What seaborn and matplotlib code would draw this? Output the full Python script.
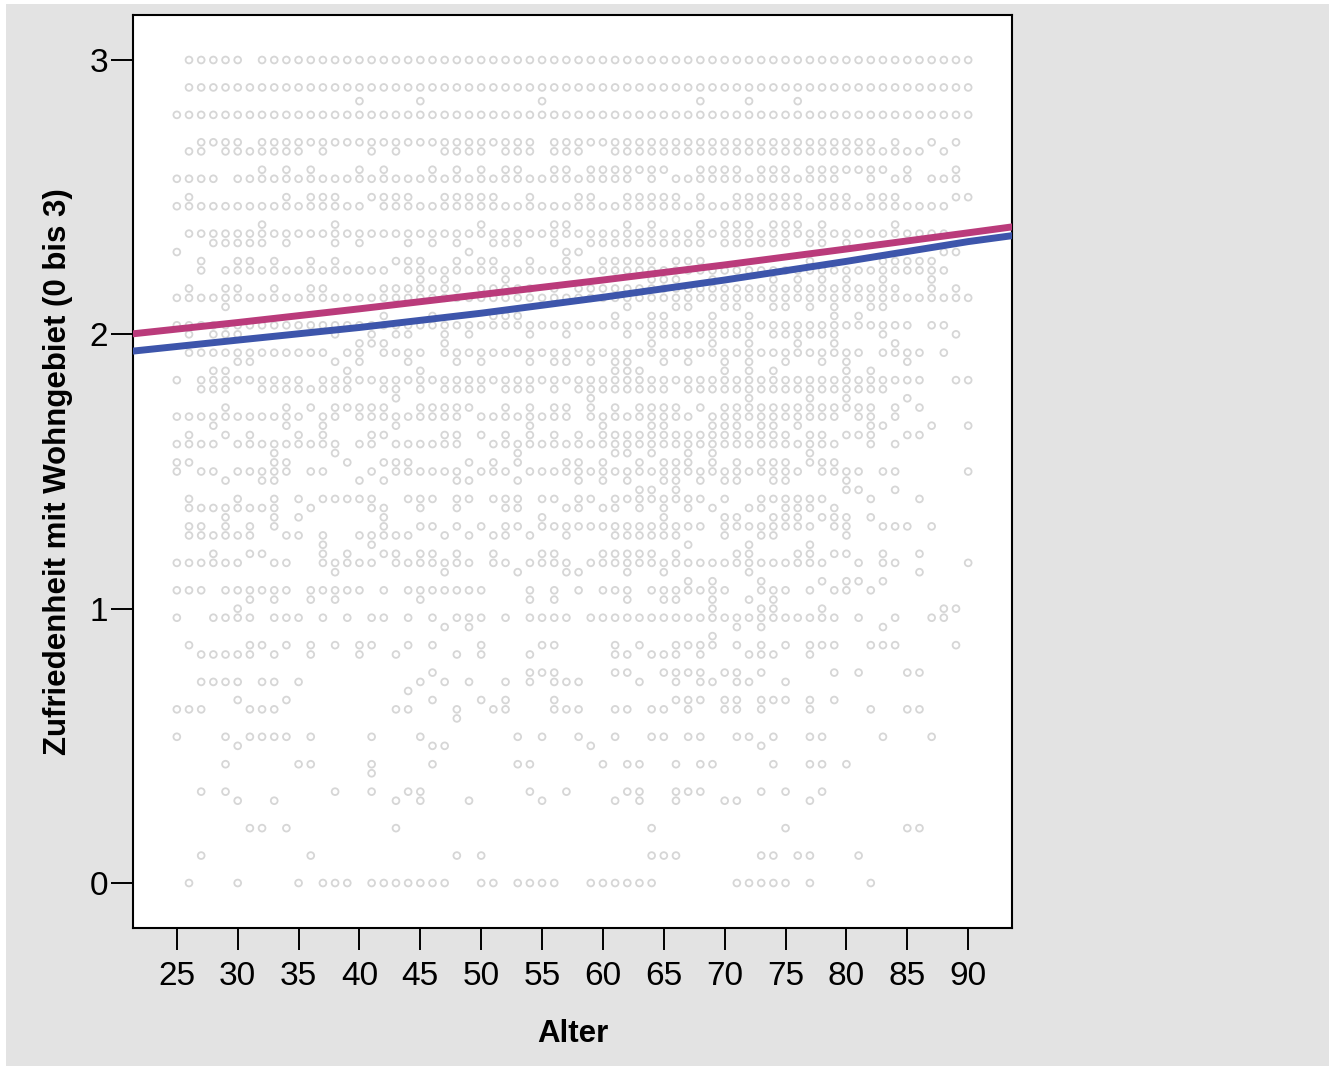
import matplotlib
matplotlib.use("Agg")

import numpy as np
import pandas as pd
import matplotlib.pyplot as plt
import seaborn as sns
from matplotlib.patches import Rectangle

# ---------------------------------------------------
# Data
# ---------------------------------------------------

# y levels of the scatter rows (satisfaction score)
levels = [
    3.0, 2.9, 2.85, 2.8, 2.7, 2.667, 2.6, 2.567, 2.5, 2.467,
    2.4, 2.367, 2.333, 2.3, 2.267, 2.233, 2.2, 2.167, 2.133, 2.1,
    2.067, 2.033, 2.0, 1.967, 1.933, 1.9, 1.867, 1.833, 1.8, 1.767,
    1.733, 1.7, 1.667, 1.633, 1.6, 1.567, 1.533, 1.5, 1.467, 1.433,
    1.4, 1.367, 1.333, 1.3, 1.267, 1.233, 1.2, 1.167, 1.133, 1.1,
    1.067, 1.033, 1.0, 0.967, 0.933, 0.9, 0.867, 0.833, 0.767, 0.733,
    0.7, 0.667, 0.633, 0.6, 0.533, 0.5, 0.433, 0.4, 0.333, 0.3,
    0.2, 0.1, 0.0,
]

# ages with at least one respondent on each level ("a-b" = every age from a to b)
ages_per_level = [
    "26-30 32-90",
    "26-90",
    "40 45 55 68 72 76",
    "25-90",
    "27-30 32-54 56-82 84 87 89",
    "26 27 29-35 37 41 43 47-50 52-54 56-58 61-86 88",
    "32 34 36 40 42 46 48 50 52 53 56 57 59-65 68-71 73-75 77-83 85 89",
    "25-28 30-62 64 66-79 82 84 85 87-89",
    "26 34 36-38 41-44 47-51 54 58 59 62-66 68 71-76 78-80 82-84 89 90",
    "25-40 42-88",
    "32 38 50 56 57 62 64 68 70-72 74-76 78 84",
    "26-88",
    "28-32 34 38 40 44 46 48 51-53 56 59-68 70-75 77 78 80",
    "25 49 57 58 88 89",
    "27 30 31 33 36 38 43-45 48 50 51 54 57 60-64 66-68 77 83-87",
    "27 29-42 44-88",
    "45 47 52 64-66 69 74 76 78 80 83 87",
    "26 29 30 33 36 37 42-48 50-54 56 58-84 87 89",
    "25-90",
    "29 62 66 67 70 71 74 75 77 79 82 83",
    "42 46 51-53 61 64 65 69 72 79 81",
    "25-85 87 88",
    "26 28-30 38 41 43 44 47 49 54 57 62 64-72 74-79 83 89",
    "40-42 47 64 69 72 76 79 84",
    "26-37 39 40 42-45 47-81 83-86 88",
    "30 31 38 40 44 48 50 54 56 57 59 61 62 65 67 70 72 75 78 80 85",
    "28 29 39 45 61-63 70 72 74 80 82",
    "25 27-35 37-86 89 90",
    "27-29 32-39 42 43 45 47-50 52-54 56 58-65 67-83",
    "43 59 72 77 80 85",
    "29 34 36 38-42 45-49 52 54 56 57 59 61 63-66 68 70-82 84 86",
    "25-35 37 38 40-48 50-57 59-67 69-79 81 82 84",
    "28 34 37 43 54 60 64 65 69-71 73 74 76 82 83 87 90",
    "26 29 31 35 37 41 42 47 48 50 52 54 56 58 60-75 77 78 80-82 85 86",
    "25-28 30-38 40 41 43-48 51-79 82 84",
    "33 38 53 61 62 64 67 69 77",
    "25 26 33 34 39 42-44 49 51 53 57 58 60 63 65-67 69 71 73-75 77-79",
    "25 27 28 30-34 36 37 41 43-48 50-52 54-76 78-81 83 84 90",
    "29 32 33 40 42 48 49 53 58 60 62 65 66 68 70 71 74 75 80",
    "63 64 66 80 81 84",
    "26 30 33 35 37-41 44-46 48 49 51-53 55 56 58 59 61-68 70 73-78 82 86",
    "26-33 36 41 42 45 48 52 53 57 58 60 61 63 65 67 69 72 73 75-77 79",
    "29 33 35 42 55 65 70 71 74-76 78-80 82",
    "26 27 29 31 33 42 45 46 48 50 52 53 55-68 70-77 79 80 83-85 87",
    "26-31 34 35 37 40-44 47 49 51 52 54 57 61-66 70 73 74 80",
    "37 41 67 72 77",
    "28 31 32 37 39 42 43 45 46 48 51 55 56 60-64 66 71 72 76 77 79 80 83 86",
    "25-30 33 34 37-41 43-49 51 52 54-57 59-78 81 83 84 90",
    "38 47 53 57 58 62 65 72 86",
    "67 69 73 78 80 81 83",
    "25-27 29-34 36-40 42 44-50 54 56 58 60-62 64-70 73-75 77 79 80 82",
    "31 33 36 38 45 54 56 62 65 66 69 72 74",
    "30 69 73 74 78 88 89",
    "25 28-31 33-35 37 39 41 42 44 46 48-50 52 54-57 59-79 81 84 87 88",
    "47 49 71 73 83",
    "69",
    "26 31 32 34 36 38 40 41 44 46 50 55 56 61 63 66-69 71 73 75 77-79 82-84 89",
    "27-31 33 36 40 43 48 50 54 61 62 64-66 68 72-74 77",
    "46 54-56 61 62 65-68 70 71 73 79 81 85 86",
    "27-30 32 33 35 45 47 49 52 54 56-58 63 66 68 69 71 72 75",
    "44",
    "30 34 46 50 52 56 66-68 70 71 73-75 77 79",
    "25-27 31-33 43 44 48 51 52 56-58 61 62 64 65 67 70 71 73 77 82 85 86",
    "48",
    "25 29 31-34 36 41 45 53 55 58 61 64 65 67 68 71 72 74 77 78 83 87",
    "30 46 47 59 73",
    "29 35 36 41 46 53 54 60 62 63 66 68 69 74 77 78 80",
    "41",
    "27 29 38 41 44 45 54 57 62 63 66-68 73 75 78",
    "30 33 43 45 49 55 61 63 66 70 71 77",
    "31 32 34 43 64 75 85 86",
    "27 36 48 50 64-66 73 74 76 77 81",
    "26 30 35 37-39 41-47 50 51 53-56 59-64 71-75 77 82",
]

# fitted curves (two groups), read at these ages
fit_age = [21, 30, 40, 50, 60, 70, 80, 90, 94]
fit_pink = [2.000, 2.043, 2.093, 2.145, 2.198, 2.253, 2.311, 2.370, 2.394]
fit_blue = [1.937, 1.979, 2.025, 2.077, 2.135, 2.198, 2.266, 2.338, 2.362]

x_ticks = [25, 30, 35, 40, 45, 50, 55, 60, 65, 70, 75, 80, 85, 90]
y_ticks = [0, 1, 2, 3]

# ---------------------------------------------------
# Long format table
# ---------------------------------------------------


def expand(spec):
    ages = []
    for part in spec.split():
        if "-" in part:
            a, b = part.split("-")
            ages.extend(range(int(a), int(b) + 1))
        else:
            ages.append(int(part))
    return sorted(set(ages))


rows = []
for level, spec in zip(levels, ages_per_level):
    for age in expand(spec):
        rows.append((age, level))

points = pd.DataFrame(rows, columns=["Alter", "Zufriedenheit"])

# ---------------------------------------------------
# Figure
# ---------------------------------------------------

sns.set_style("white")
plt.rcParams["font.family"] = ["Liberation Sans", "DejaVu Sans"]

W, H = 1333, 1070
fig = plt.figure(figsize=(W / 100, H / 100), dpi=100)
fig.patch.set_facecolor("white")

fig.add_artist(
    Rectangle(
        (6 / W, 4 / H), 1323 / W, 1062 / H,
        transform=fig.transFigure,
        facecolor="#E3E3E3",
        edgecolor="none",
        zorder=0
    )
)

ax = fig.add_axes([133 / W, 1 - 928 / H, 879 / W, 913 / H])
ax.set_facecolor("white")

sns.scatterplot(
    data=points,
    x="Alter",
    y="Zufriedenheit",
    ax=ax,
    s=24,
    marker="o",
    facecolors="none",
    edgecolor="#D6D6D6",
    linewidth=1.3,
    zorder=2
)

sns.lineplot(x=fit_age, y=fit_pink, ax=ax, color="#BA3B7B", linewidth=5, zorder=3)
sns.lineplot(x=fit_age, y=fit_blue, ax=ax, color="#3D55AB", linewidth=5, zorder=3)

ax.set_xlim(21.4, 93.6)
ax.set_ylim(-0.164, 3.164)

ax.set_xticks(x_ticks)
ax.set_yticks(y_ticks)

for spine in ax.spines.values():
    spine.set_visible(True)
    spine.set_color("black")
    spine.set_linewidth(1.5)

ax.tick_params(axis="both", direction="out", length=16, width=1.4,
               bottom=True, left=True,
               color="black", labelsize=24, labelcolor="black")
ax.tick_params(axis="x", pad=8)
ax.tick_params(axis="y", pad=2)

ax.set_xlabel("Alter", fontsize=22.5, fontweight="bold", color="black")
ax.set_ylabel("Zufriedenheit mit Wohngebiet (0 bis 3)", fontsize=22.5,
              fontweight="bold", color="black")
ax.xaxis.set_label_coords(0.5, -0.100)
ax.yaxis.set_label_coords(-0.068, 0.5)

fig.savefig("out.png", dpi=100)
